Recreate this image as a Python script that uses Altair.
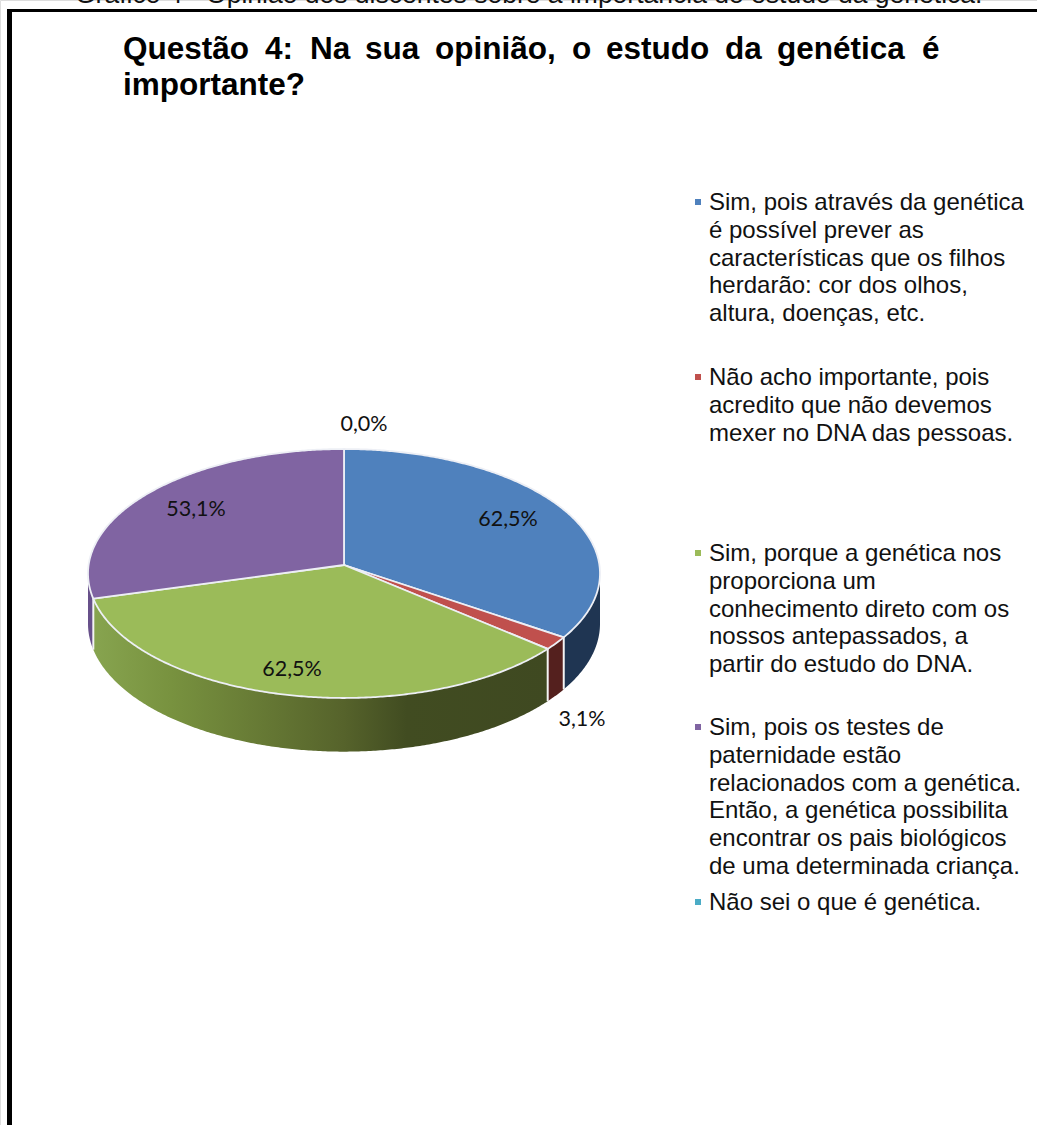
import math

import altair as alt
import pandas as pd

# Survey answers, in the clockwise order of the slices
answers = ["Sim, pois", "Não acho", "Sim, porque", "Sim, testes", "Não sei"]
percentages = [62.5, 3.1, 62.5, 53.1, 0.0]
top_colors = ["#4F81BD", "#C0504D", "#9BBB59", "#8064A2", "#4BACC6"]
wall_colors = ["#1F3552", "#54201E", "#5A6A2C", "#67508A", "#2F6F80"]

legend_lines = [
    ["Sim, pois através da genética", "é possível prever as",
     "características que os filhos", "herdarão: cor dos olhos,",
     "altura, doenças, etc."],
    ["Não acho importante, pois", "acredito que não devemos",
     "mexer no DNA das pessoas."],
    ["Sim, porque a genética nos", "proporciona um",
     "conhecimento direto com os", "nossos antepassados, a",
     "partir do estudo do DNA."],
    ["Sim, pois os testes de", "paternidade estão",
     "relacionados com a genética.", "Então, a genética possibilita",
     "encontrar os pais biológicos", "de uma determinada criança."],
    ["Não sei o que é genética."],
]
legend_first_baseline = [210, 385, 561, 735, 910]
legend_line_pitch = 27.8

title_words = ["Questão", "4:", "Na", "sua", "opinião,", "o", "estudo", "da", "genética", "é"]
title_word_left = [123, 265, 310, 365, 435, 572, 606, 725, 777, 922]
title_second_line = "importante?"
caption = "Gráfico 4 - Opinião dos discentes sobre a importância do estudo da genética."

# Where each percentage label sits on the page
label_centres = [(508, 518), (582, 718), (292, 668), (196, 508), (364, 423)]

# Tilted disc: a circle seen in perspective, nearer edge larger
W, H = 1037, 1125
APEX_X, APEX_Y = 344, 565
RADIUS_X, RADIUS_Y = 255.4, 123.9
PERSPECTIVE = 0.0683
WALL_DEPTH = 50


def project(theta_deg):
    t = math.radians(theta_deg)
    w = 1 + PERSPECTIVE * math.cos(t)
    return (APEX_X + RADIUS_X * math.sin(t) / w,
            APEX_Y - RADIUS_Y * math.cos(t) / w,
            WALL_DEPTH / w)


total = sum(percentages)
edges = [0.0]
for p in percentages:
    edges.append(edges[-1] + 360 * p / total)


def arc_angles(start, end, step=0.5):
    n = max(2, int((end - start) / step) + 1)
    return [start + (end - start) * i / (n - 1) for i in range(n)]


x_scale = alt.Scale(domain=[0, W], range=[0, W])
y_scale = alt.Scale(domain=[0, H], range=[0, H])
X = lambda f="x": alt.X(f"{f}:Q", scale=x_scale, axis=None)
Y = lambda f="y": alt.Y(f"{f}:Q", scale=y_scale, axis=None)

layers = []

# The rim is visible between the disc's rightmost and leftmost points
sweep = arc_angles(0, 360, 0.25)
rightmost = max(sweep, key=lambda a: project(a)[0])
leftmost = min(sweep, key=lambda a: project(a)[0])

green_wall = alt.Gradient(
    gradient="linear", x1=0, x2=1, y1=0, y2=0,
    stops=[
        alt.GradientStop(color="#87A44F", offset=0),
        alt.GradientStop(color="#78923F", offset=0.17),
        alt.GradientStop(color="#56632B", offset=0.55),
        alt.GradientStop(color="#414C21", offset=0.69),
        alt.GradientStop(color="#3F4921", offset=1),
    ],
)

# Rim walls, one area for each slice that faces the viewer
for i, p in enumerate(percentages):
    start, end = max(edges[i], rightmost), min(edges[i + 1], leftmost)
    if p == 0 or end <= start:
        continue
    rows = []
    for a in arc_angles(start, end):
        px, py, depth = project(a)
        rows.append({"x": px, "y": py, "y2": py + depth})
    fill = green_wall if answers[i] == "Sim, porque" else wall_colors[i]
    layers.append(
        alt.Chart(pd.DataFrame(rows)).mark_area(fill=fill, stroke=None).encode(
            x=X(), y=Y(), y2="y2:Q"
        )
    )

# White seams on the rim where two slices meet
for edge in edges[1:4]:
    if rightmost < edge < leftmost:
        px, py, depth = project(edge)
        seam = pd.DataFrame({"x": [px, px], "y": [py, py + depth]})
        layers.append(
            alt.Chart(seam).mark_line(stroke="#F4F4F4", strokeWidth=2).encode(x=X(), y=Y())
        )

# Top face of each slice, closed back on the apex
for i, p in enumerate(percentages):
    if p == 0:
        continue
    rows = [{"x": APEX_X, "y": APEX_Y}]
    for a in arc_angles(edges[i], edges[i + 1]):
        px, py, _ = project(a)
        rows.append({"x": px, "y": py})
    rows.append({"x": APEX_X, "y": APEX_Y})
    frame = pd.DataFrame(rows).reset_index()
    layers.append(
        alt.Chart(frame)
        .mark_line(fill=top_colors[i], stroke="#EDEFF5", strokeWidth=1.8, strokeJoin="round")
        .encode(x=X(), y=Y(), order="index:Q")
    )

# Percentage labels, formatted from the same values that size the slices
label_frame = pd.DataFrame({
    "text": [f"{p:.1f}%".replace(".", ",") for p in percentages],
    "x": [c[0] for c in label_centres],
    "y": [c[1] for c in label_centres],
})
layers.append(
    alt.Chart(label_frame)
    .mark_text(font="Lato", fontSize=21.5, color="#111111", align="center", baseline="middle", dy=2)
    .encode(x=X(), y=Y(), text="text:N")
)

# Legend: a small square and the wrapped answer text
legend_rows, marker_rows = [], []
for i, lines in enumerate(legend_lines):
    marker_rows.append({"x": 698, "y": legend_first_baseline[i] - 8, "color": top_colors[i]})
    for j, line in enumerate(lines):
        legend_rows.append({"x": 709, "y": legend_first_baseline[i] + j * legend_line_pitch, "text": line})
layers.append(
    alt.Chart(pd.DataFrame(marker_rows))
    .mark_square(size=36, opacity=1)
    .encode(x=X(), y=Y(), color=alt.Color("color:N", scale=None))
)
layers.append(
    alt.Chart(pd.DataFrame(legend_rows))
    .mark_text(font="Liberation Sans", fontSize=24, color="#111111", align="left", baseline="alphabetic")
    .encode(x=X(), y=Y(), text="text:N")
)

# Justified heading, placed word by word, then its second line
title_frame = pd.DataFrame({
    "x": title_word_left + [123],
    "y": [59] * len(title_words) + [95],
    "text": title_words + [title_second_line],
})
layers.append(
    alt.Chart(title_frame)
    .mark_text(font="Liberation Sans", fontWeight="bold", fontSize=31.5, color="#000000",
               align="left", baseline="alphabetic")
    .encode(x=X(), y=Y(), text="text:N")
)

# Caption above the frame, cut by the page's top edge
layers.append(
    alt.Chart(pd.DataFrame({"x": [75], "y": [3], "text": [caption]}))
    .mark_text(font="Liberation Sans", fontSize=26.5, color="#111111", align="left", baseline="alphabetic")
    .encode(x=X(), y=Y(), text="text:N")
)

# Heavy frame along the top and left
frame_rules = pd.DataFrame({"x": [7, 7], "x2": [W, 12], "y": [9, 9], "y2": [12, H]})
layers.append(
    alt.Chart(frame_rules).mark_rect(color="#000000").encode(
        x=X(), x2="x2:Q", y=Y(), y2="y2:Q"
    )
)

chart = (
    alt.layer(*layers)
    .properties(width=W, height=H, padding=0, autosize=alt.AutoSizeParams(type="none"))
    .configure_view(stroke=None)
    .configure(background="white")
)

chart.save("out.html", embed_options={"renderer": "svg", "actions": False})
